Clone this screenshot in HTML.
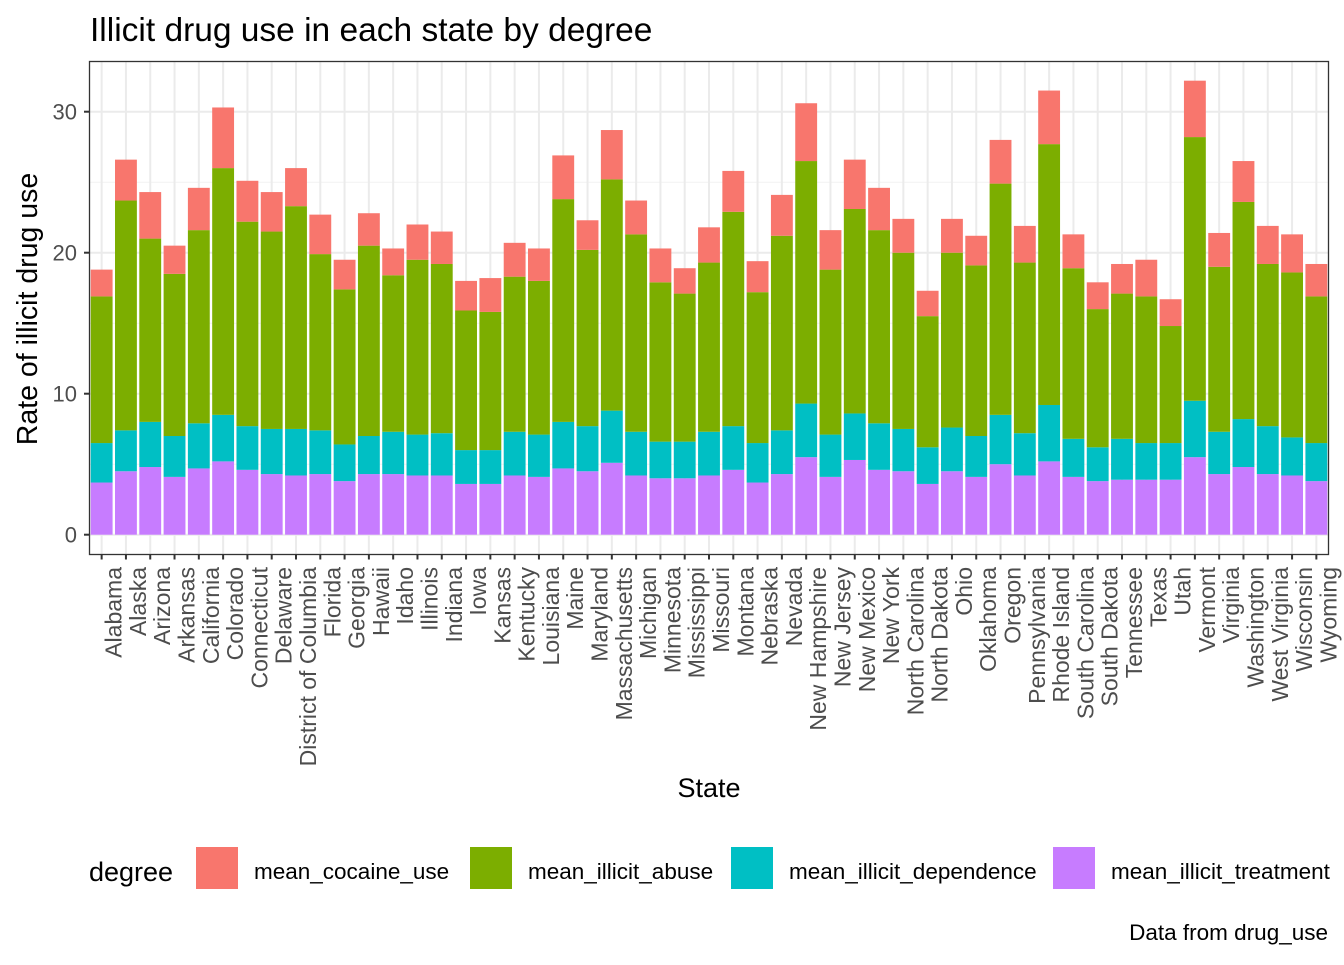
<!DOCTYPE html>
<html><head><meta charset="utf-8"><style>
html,body{margin:0;padding:0;background:#fff}
svg text{font-family:"Liberation Sans",Arial,sans-serif}
</style></head><body>
<svg id="chart" width="1344" height="960" xmlns="http://www.w3.org/2000/svg">
<rect width="1344" height="960" fill="#fff"/>
<text x="90" y="41" font-size="33.5" fill="#000">Illicit drug use in each state by degree</text>
<g id="grid"></g>
<g id="bars"></g>
<rect x="89.5" y="61.5" width="1239" height="493" fill="none" stroke="#333" stroke-width="1.3"/>
<g id="yaxis"></g>
<g id="xaxis"></g>
<text transform="translate(37,309) rotate(-90)" text-anchor="middle" font-size="28.5" fill="#000">Rate of illicit drug use</text>
<text x="709" y="797" text-anchor="middle" font-size="27" fill="#000">State</text>
<g id="legend">
<text x="89" y="881" font-size="27" fill="#000">degree</text>
</g>
<text x="1328" y="940" text-anchor="end" font-size="22.5" fill="#000">Data from drug_use</text>
</svg>
<script>
const states = ["Alabama","Alaska","Arizona","Arkansas","California","Colorado","Connecticut","Delaware","District of Columbia","Florida","Georgia","Hawaii","Idaho","Illinois","Indiana","Iowa","Kansas","Kentucky","Louisiana","Maine","Maryland","Massachusetts","Michigan","Minnesota","Mississippi","Missouri","Montana","Nebraska","Nevada","New Hampshire","New Jersey","New Mexico","New York","North Carolina","North Dakota","Ohio","Oklahoma","Oregon","Pennsylvania","Rhode Island","South Carolina","South Dakota","Tennessee","Texas","Utah","Vermont","Virginia","Washington","West Virginia","Wisconsin","Wyoming"];
const treatment = [3.7,4.5,4.8,4.1,4.7,5.2,4.6,4.3,4.2,4.3,3.8,4.3,4.3,4.2,4.2,3.6,3.6,4.2,4.1,4.7,4.5,5.1,4.2,4.0,4.0,4.2,4.6,3.7,4.3,5.5,4.1,5.3,4.6,4.5,3.6,4.5,4.1,5.0,4.2,5.2,4.1,3.8,3.9,3.9,3.9,5.5,4.3,4.8,4.3,4.2,3.8];
const dependence = [2.8,2.9,3.2,2.9,3.2,3.3,3.1,3.2,3.3,3.1,2.6,2.7,3.0,2.9,3.0,2.4,2.4,3.1,3.0,3.3,3.2,3.7,3.1,2.6,2.6,3.1,3.1,2.8,3.1,3.8,3.0,3.3,3.3,3.0,2.6,3.1,2.9,3.5,3.0,4.0,2.7,2.4,2.9,2.6,2.6,4.0,3.0,3.4,3.4,2.7,2.7];
const abuse = [10.4,16.3,13.0,11.5,13.7,17.5,14.5,14.0,15.8,12.5,11.0,13.5,11.1,12.4,12.0,9.9,9.8,11.0,10.9,15.8,12.5,16.4,14.0,11.3,10.5,12.0,15.2,10.7,13.8,17.2,11.7,14.5,13.7,12.5,9.3,12.4,12.1,16.4,12.1,18.5,12.1,9.8,10.3,10.4,8.3,18.7,11.7,15.4,11.5,11.7,10.4];
const cocaine = [1.9,2.9,3.3,2.0,3.0,4.3,2.9,2.8,2.7,2.8,2.1,2.3,1.9,2.5,2.3,2.1,2.4,2.4,2.3,3.1,2.1,3.5,2.4,2.4,1.8,2.5,2.9,2.2,2.9,4.1,2.8,3.5,3.0,2.4,1.8,2.4,2.1,3.1,2.6,3.8,2.4,1.9,2.1,2.6,1.9,4.0,2.4,2.9,2.7,2.7,2.3];
const yTicks = [0,10,20,30];
const legendLabels = ["mean_cocaine_use","mean_illicit_abuse","mean_illicit_dependence","mean_illicit_treatment"];

const NS="http://www.w3.org/2000/svg";
const L=89.5,R=1328.5,T=61.5,B=554.5;
const y=v=>534.7-v*14.1;
const step=(R-L)/states.length;
const x=i=>L+step*(i+0.5);
const bw=step*0.9;
function mk(tag,attrs,parent){const e=document.createElementNS(NS,tag);for(const k in attrs)e.setAttribute(k,attrs[k]);parent.appendChild(e);return e;}
const grid=document.getElementById('grid'),bars=document.getElementById('bars'),ya=document.getElementById('yaxis'),xa=document.getElementById('xaxis'),lg=document.getElementById('legend');
for(let v=5;v<=30;v+=10){const g=mk('line',{x1:L,x2:R,y1:y(v),y2:y(v),stroke:'#f2f2f2','stroke-width':1},grid);

}
yTicks.forEach(v=>{const g=mk('line',{x1:L,x2:R,y1:y(v),y2:y(v),stroke:'#ebebeb','stroke-width':2},grid);


const t=mk('line',{x1:84,x2:L,y1:y(v),y2:y(v),stroke:'#333','stroke-width':2},ya);


const tx=mk('text',{x:77,y:y(v)+8,'text-anchor':'end','font-size':22,fill:'#4d4d4d'},ya);
tx.textContent=v;

});
const series=[[treatment,'#C77CFF','treatment'],[dependence,'#00BFC4','dependence'],[abuse,'#7CAE00','abuse'],[cocaine,'#F8766D','cocaine']];
states.forEach((s,i)=>{
const gl=mk('line',{x1:x(i),x2:x(i),y1:T,y2:B,stroke:'#ebebeb','stroke-width':2},grid);


let cum=0;
series.forEach(([arr,col,nm])=>{const v=arr[i];
const r=mk('rect',{x:x(i)-bw/2,y:y(cum+v),width:bw,height:y(cum)-y(cum+v),fill:col},bars);


cum+=v;});
const t=mk('line',{x1:x(i),x2:x(i),y1:B,y2:B+5,stroke:'#333','stroke-width':2},xa);


const tx=mk('text',{transform:`translate(${x(i)+20},567) rotate(-90)`,'text-anchor':'end','font-size':23,fill:'#4d4d4d'},xa);
tx.textContent=s;


});
const lcols=['#F8766D','#7CAE00','#00BFC4','#C77CFF'];
const kx=[196,470,731,1053];
legendLabels.forEach((lab,i)=>{
const r=mk('rect',{x:kx[i],y:847,width:42,height:42,fill:lcols[i]},lg);


const t=mk('text',{x:kx[i]+58,y:879,'font-size':22.5,fill:'#000'},lg);
t.textContent=lab;

});
</script>
</body></html>
